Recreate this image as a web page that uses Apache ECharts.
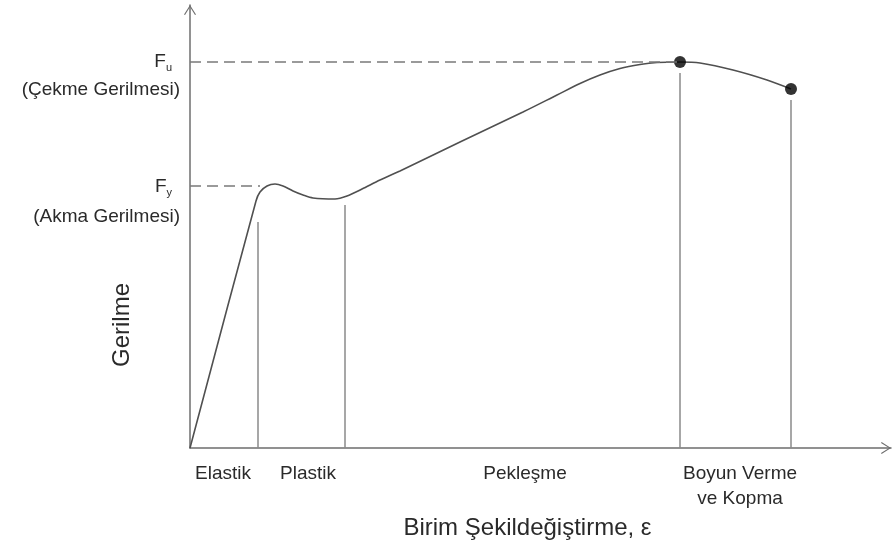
<!DOCTYPE html>
<html>
<head>
<meta charset="utf-8">
<script src="https://cdn.jsdelivr.net/npm/echarts@6/dist/echarts.min.js"></script>
<style>
  html, body { margin: 0; padding: 0; background: #fff; }
  #chart { width: 893px; height: 543px; }
</style>
</head>
<body>
<div id="chart"></div>
<script>
// egri noktalari (birim sekildegistirme, gerilme)
const strain = [0, 66, 70, 77, 85, 93, 103, 113, 123, 145, 157, 172, 190, 210, 270, 333, 367, 390, 410, 430, 450, 467, 490, 510, 543, 577, 601];
const stress = [0, 247, 256, 262, 264, 262, 257, 253, 250, 249, 252, 259, 268, 277, 306, 336, 353, 364.5, 373, 379.5, 383.5, 385.5, 386, 385, 378, 368, 359];

// boyun verme ve kopma noktalari
const dotStrain = [490, 601];
const dotStress = [386, 359];

// bolge sinirlari (dikey cizgiler)
const dividerStrain = [68, 155, 490, 601];
const dividerTop = [226, 243, 375, 348];

// Fu ve Fy kesikli cizgileri
const fu = 386, fy = 262;
const fuEnd = 490, fyEnd = 70;

// eksen etiketleri
const xLabelValues = [33, 118, 335, 550];
const xLabelTexts = ['Elastik', 'Plastik', 'Pekleşme', 'Boyun Verme\nve Kopma'];
const yLabelValues = [386, 358, 261, 231];
const yLabelTexts = ['{f|F}{s|u}', '(Çekme Gerilmesi)', '{f|F}{s|y}', '(Akma Gerilmesi)'];

const FONT = 'Liberation Sans';
const AXIS = '#6e6e6e';
const TXT = '#2a2a2a';

const chart = echarts.init(document.getElementById('chart'), null, { renderer: 'canvas' });

const arrow = 'path://M6 0 L12 9.4 L11 10 L6 1.9 L1 10 L0 9.4 Z';

const option = {
  backgroundColor: '#fff',
  animation: false,
  grid: { left: 190, right: 2, top: 5, bottom: 95, containLabel: false, outerBoundsMode: 'none' },
  xAxis: {
    type: 'value',
    min: 0,
    max: 701,
    name: 'Birim Şekildeğiştirme, ε',
    nameLocation: 'middle',
    nameGap: 62,
    nameTextStyle: { fontFamily: FONT, fontSize: 24, color: TXT, padding: [0, 26, 0, 0] },
    axisLine: {
      show: true,
      lineStyle: { color: AXIS, width: 1.5 },
      symbol: ['none', arrow],
      symbolSize: [13, 10],
      symbolOffset: [0, -5]
    },
    axisTick: { show: false },
    splitLine: { show: false },
    axisLabel: {
      customValues: xLabelValues,
      formatter: v => xLabelTexts[xLabelValues.indexOf(v)],
      fontFamily: FONT,
      fontSize: 19,
      lineHeight: 25,
      color: TXT,
      margin: 13
    }
  },
  yAxis: {
    type: 'value',
    min: 0,
    max: 443,
    axisLine: {
      show: true,
      lineStyle: { color: AXIS, width: 1.5 },
      symbol: ['none', arrow],
      symbolSize: [13, 10],
      symbolOffset: [0, -5]
    },
    axisTick: { show: false },
    splitLine: { show: false },
    axisLabel: {
      customValues: yLabelValues,
      formatter: v => yLabelTexts[yLabelValues.indexOf(v)],
      fontFamily: FONT,
      fontSize: 19,
      color: TXT,
      margin: 10,
      rich: {
        f: { fontFamily: FONT, fontSize: 19, color: TXT, lineHeight: 22 },
        s: { fontFamily: FONT, fontSize: 11, color: TXT, lineHeight: 11, verticalAlign: 'bottom', padding: [0, 8, 0, 0] }
      }
    }
  },
  graphic: [{
    type: 'text',
    x: 122,
    y: 325,
    rotation: Math.PI / 2,
    style: {
      text: 'Gerilme',
      fontFamily: FONT,
      fontSize: 24,
      fill: TXT,
      align: 'center',
      verticalAlign: 'middle'
    }
  }],
  series: [
    {
      type: 'line',
      name: 'bolgeler',
      data: [],
      silent: true,
      markLine: {
        silent: true,
        symbol: ['none', 'none'],
        label: { show: false },
        lineStyle: { color: '#8a8a8a', width: 1.5, type: 'solid' },
        data: dividerStrain.map((x, i) => [{ coord: [x, 0] }, { coord: [x, dividerTop[i]] }])
          .concat([
            [{ coord: [0, fu], lineStyle: { type: [11, 6], color: '#7a7a7a' } }, { coord: [fuEnd, fu] }],
            [{ coord: [0, fy], lineStyle: { type: [11, 6], color: '#7a7a7a' } }, { coord: [fyEnd, fy] }]
          ])
      }
    },
    {
      type: 'line',
      name: 'egri',
      data: strain.map((x, i) => [x, stress[i]]),
      smooth: 0.3,
      showSymbol: false,
      lineStyle: { color: '#505050', width: 1.6 },
      z: 3
    },
    {
      type: 'scatter',
      name: 'noktalar',
      data: dotStrain.map((x, i) => [x, dotStress[i]]),
      symbol: 'circle',
      symbolSize: 12,
      itemStyle: { color: '#000' },
      z: 4
    }
  ]
};

chart.setOption(option);
</script>
</body>
</html>
